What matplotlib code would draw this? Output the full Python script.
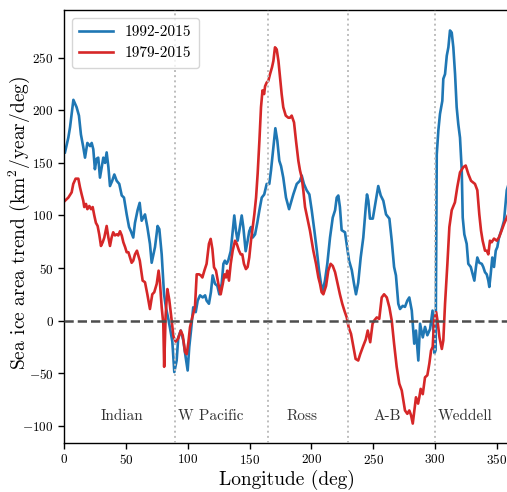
import matplotlib
matplotlib.use("Agg")
import matplotlib.pyplot as plt

plt.rcParams.update({
    "font.family": "serif",
    "font.serif": ["cmr10", "DejaVu Serif"],
    "mathtext.fontset": "cm",
    "axes.formatter.use_mathtext": True,
    "axes.unicode_minus": True,
})

# Longitudinal sea-ice area trends, 1992-2015
lon_1992 = [0.8, 3.5, 4.9, 7.6, 10.2, 12.1, 13.7, 15.6, 17.0, 18.9, 21.1, 22.4, 23.7, 25.0,
            26.4, 27.7, 29.1, 30.5, 31.8, 33.2, 34.5, 35.9, 37.2, 39.0, 40.7, 42.6, 44.7,
            46.7, 48.5, 50.7, 52.6, 54.1, 56.0, 57.4, 59.5, 61.2, 62.8, 65.5, 67.4, 69.5,
            70.9, 73.6, 75.7, 77.1, 79.0, 80.9, 82.5, 84.3, 85.7, 87.6, 89.2, 91.1, 92.4,
            94.4, 96.5, 98.4, 100.0, 101.3, 102.7, 104.5, 106.5, 108.1, 110.0, 112.2, 114.1,
            115.3, 117.2, 118.8, 120.2, 122.1, 124.0, 125.6, 127.5, 128.9, 130.1, 131.5,
            132.8, 134.8, 136.4, 137.7, 139.1, 140.4, 141.7, 143.7, 145.0, 146.9, 148.5,
            149.8, 151.2, 152.6, 154.5, 156.3, 158.0, 159.9, 161.9, 163.9, 166.0, 167.4,
            169.3, 170.9, 172.5, 174.1, 175.5, 177.3, 179.5, 182.0, 185.4, 188.2, 190.8,
            192.2, 194.0, 196.2, 198.4, 200.3, 202.4, 204.4, 206.2, 207.8, 209.2, 211.0,
            212.9, 215.1, 217.3, 219.2, 220.5, 221.8, 223.1, 224.5, 227.2, 229.4, 230.5,
            232.7, 234.5, 236.1, 237.9, 239.9, 242.0, 244.2, 245.0, 246.1, 247.4, 249.7,
            251.4, 252.8, 254.1, 256.1, 258.2, 260.4, 263.1, 265.0, 266.9, 268.4, 270.3,
            271.7, 273.9, 275.7, 277.6, 279.2, 281.2, 283.2, 284.6, 286.5, 287.9, 290.1,
            291.9, 293.8, 296.0, 298.0, 299.6, 300.5, 301.4, 302.7, 304.0, 305.9, 306.7,
            308.1, 309.5, 310.8, 312.1, 313.5, 314.8, 316.2, 317.5, 318.8, 320.2, 321.6,
            322.4, 323.7, 325.6, 326.9, 328.9, 330.5, 331.8, 333.1, 334.2, 335.8, 337.8,
            339.0, 340.4, 341.8, 343.1, 343.9, 345.0, 346.3, 347.7, 349.1, 350.4, 351.7,
            353.1, 354.4, 355.8, 356.8, 358.0, 360.0]
trend_1992 = [160, 174, 184, 210, 203, 195, 177, 165, 155, 169, 166, 169, 163, 144,
              154, 155, 136, 146, 155, 150, 160, 146, 128, 133, 139, 133, 130,
              119, 117, 101, 89, 85, 79, 93, 105, 112, 95, 101, 89, 73,
              55, 70, 90, 87, 63, 25, 12, 2, -7, -20, -49, -38, -16,
              -9.5, -19, -35, -47.5, -25, -9.5, 12.6, 8, 19, 24, 22, 24,
              19, 16, 27, 43, 35, 33, 25, 35, 54, 57, 54,
              57, 66, 85, 100, 85, 76, 85, 100, 89, 66, 76,
              85, 89, 79, 82, 93, 105, 117, 120, 130, 130, 143,
              165, 183, 171, 152, 147, 136, 117, 106, 120, 130, 133,
              138, 130, 124, 120, 105, 86, 67, 48, 35, 28, 38,
              54, 79, 98, 105, 117, 119, 108, 86, 84, 66, 57,
              48, 35, 25, 36, 60, 79, 111, 120, 114, 97, 97,
              109, 119, 128, 119, 114, 101, 97, 76, 51, 43, 16,
              11, 14, 13, 19, 22, 9.5, -22, -9.5, -38, -3, -16,
              -6, -14, -8, 9.5, -31, -28, 158, 181, 196.5, 209, 230,
              234.5, 252, 260, 276, 274, 260, 234.5, 203, 187, 174, 143,
              98, 82, 73, 54, 51, 44, 38, 51, 60, 55, 54,
              51, 46, 44, 38, 32, 44, 60, 51, 66.5, 70, 79,
              84, 89, 95, 108, 124, 132]

# Longitudinal sea-ice area trends, 1979-2015
lon_1979 = [0.8, 3.5, 6.2, 7.5, 9.4, 11.6, 12.9, 14.3, 15.6, 16.4, 17.8, 18.9, 20.5, 21.9,
            23.2, 24.5, 25.8, 27.2, 28.5, 29.9, 31.3, 32.6, 34.5, 35.9, 37.2, 38.5, 39.8,
            41.2, 42.6, 43.9, 45.3, 46.7, 48.0, 49.4, 50.7, 52.1, 53.4, 54.7, 56.0, 57.4,
            59.0, 61.3, 63.6, 65.5, 67.4, 69.5, 71.4, 73.0, 75.0, 76.5, 77.6, 79.0, 80.3,
            81.0, 82.2, 83.6, 85.1, 86.6, 88.5, 90.3, 92.4, 94.4, 96.0, 97.9, 99.2, 100.6,
            101.9, 103.7, 105.9, 107.3, 109.2, 110.6, 111.9, 113.5, 115.3, 117.2, 118.6,
            120.0, 121.3, 122.9, 124.8, 126.7, 128.4, 129.7, 131.0, 132.0, 133.4, 134.8,
            136.4, 138.3, 139.7, 141.5, 142.9, 144.2, 145.5, 147.1, 148.5, 149.8, 151.2,
            152.6, 153.9, 155.3, 156.6, 158.0, 159.3, 160.5, 161.8, 162.6, 163.9, 165.2,
            166.6, 168.2, 169.3, 170.6, 172.0, 173.4, 174.7, 176.0, 177.3, 179.3, 181.4,
            182.7, 184.1, 186.0, 187.6, 189.5, 190.8, 192.2, 193.5, 194.9, 196.7, 198.9,
            201.6, 203.8, 205.7, 207.0, 208.3, 209.7, 211.9, 213.7, 215.6, 217.3, 219.2,
            221.0, 223.1, 225.0, 226.7, 228.6, 230.2, 232.1, 234.0, 235.8, 237.9, 239.5,
            242.0, 244.0, 245.6, 247.6, 249.5, 250.8, 252.9, 254.9, 256.9, 258.8, 261.0,
            263.1, 265.0, 266.9, 269.0, 271.1, 273.1, 274.4, 275.7, 277.6, 279.2, 280.6,
            282.0, 283.0, 284.6, 286.3, 287.3, 288.4, 290.1, 291.9, 293.8, 295.4, 296.8,
            298.1, 299.3, 300.9, 302.0, 303.6, 305.5, 306.7, 308.1, 310.0, 311.6, 313.5,
            316.1, 318.0, 320.2, 322.9, 324.8, 326.9, 329.1, 332.3, 334.2, 335.8, 337.2,
            338.5, 340.4, 341.8, 343.1, 344.4, 345.8, 347.7, 349.9, 351.7, 353.8, 355.8,
            358.0, 360.0]
trend_1979 = [114, 117, 122, 130, 135, 135, 127, 120, 114, 108, 111, 106, 109, 106,
              108, 100, 93, 90, 82, 71, 74.5, 79, 90, 79, 71, 79, 84,
              81, 82, 81, 85, 81, 74.5, 70, 65, 65, 60, 55, 57, 63,
              66.5, 57, 38, 36.5, 25, 11, 25, 27, 35, 47.5, 36, 12.6, -3,
              -44, 5, 30, 20, 5, -15, -20, -17, -9.5, -14, -30, -32, -20.6,
              -6.3, 3, 12.6, 44, 44, 43, 41, 47.5, 54, 73, 77.7,
              68, 50.7, 47.5, 35, 25, 35, 44, 41, 47.5, 38, 54,
              66.5, 76, 73, 66.5, 63, 63, 54, 49, 51, 60, 76,
              89, 101, 117, 140, 171, 203, 219, 215.5, 223, 226.5, 228,
              234.5, 241, 247, 260, 258, 247, 231, 215.5, 203, 195, 193,
              193, 195, 188.5, 171, 152, 143, 136, 124, 108, 98, 85.5,
              66.5, 54, 41, 35, 27, 25, 33, 47.5, 54, 52, 46,
              36.5, 25, 16, 9.5, 3, -6.4, -12.7, -25, -36.5, -38, -32,
              -24, -18, -9.5, -20.6, -3, 0, 3, 1.6, 22, 25, 22,
              12.6, 0, -22, -44, -60, -66.5, -76, -85.5, -88.7, -85.5, -90,
              -98, -88.7, -73, -79, -73, -65, -70, -54, -52, -41, -28.5,
              -25, 0, 8, 0, -16, -27, -19, 16, 54, 89, 105,
              112.5, 127, 141, 146, 147.5, 139.5, 133, 130, 124, 101, 85.5,
              76, 66.5, 66.5, 63, 76, 74.5, 78, 76, 79, 85.5, 92,
              98, 103]

# Sector boundaries and names
boundaries = [90, 165, 230, 300]
sector_names = ["Indian", "W Pacific", "Ross", "A-B", "Weddell"]
sector_label_lon = [47.3, 118.7, 192.4, 261.3, 324.2]
sector_label_y = -91

fig = plt.figure(figsize=(5.07, 4.92), dpi=100)
ax = fig.add_axes([0.1262, 0.1002, 0.8782, 0.8795])

ax.plot(lon_1992, trend_1992, color="#1f77b4", lw=1.9, label="1992-2015", zorder=2)
ax.plot(lon_1979, trend_1979, color="#d62728", lw=1.9, label="1979-2015", zorder=2)

ax.axhline(0, color="#4d4d4d", ls="--", lw=1.8, zorder=3)
for b in boundaries:
    ax.axvline(b, color="#bdbdbd", ls=":", lw=1.4, zorder=3)

for name, lon in zip(sector_names, sector_label_lon):
    ax.text(lon, sector_label_y, name, ha="center", va="center",
            fontsize=11, color="#333333")

ax.set_xlim(0, 360)
ax.set_ylim(-116.2, 295.5)
ax.set_xticks([0, 50, 100, 150, 200, 250, 300, 350])
ax.set_yticks([-100, -50, 0, 50, 100, 150, 200, 250])
ax.tick_params(labelsize=9.5, direction="out", length=4, width=1.0)
for sp in ax.spines.values():
    sp.set_linewidth(1.0)

ax.set_xlabel("Longitude (deg)", fontsize=14, labelpad=2)
ax.set_ylabel(r"Sea ice area trend (km$^2$/year/deg)", fontsize=14)
ax.yaxis.set_label_coords(-0.072, 0.508)

ax.legend(loc="upper left", fontsize=11, handlelength=2.2, borderpad=0.5,
          bbox_to_anchor=(0.0, 1.0), borderaxespad=0.5)

fig.savefig("out.png", dpi=100)
